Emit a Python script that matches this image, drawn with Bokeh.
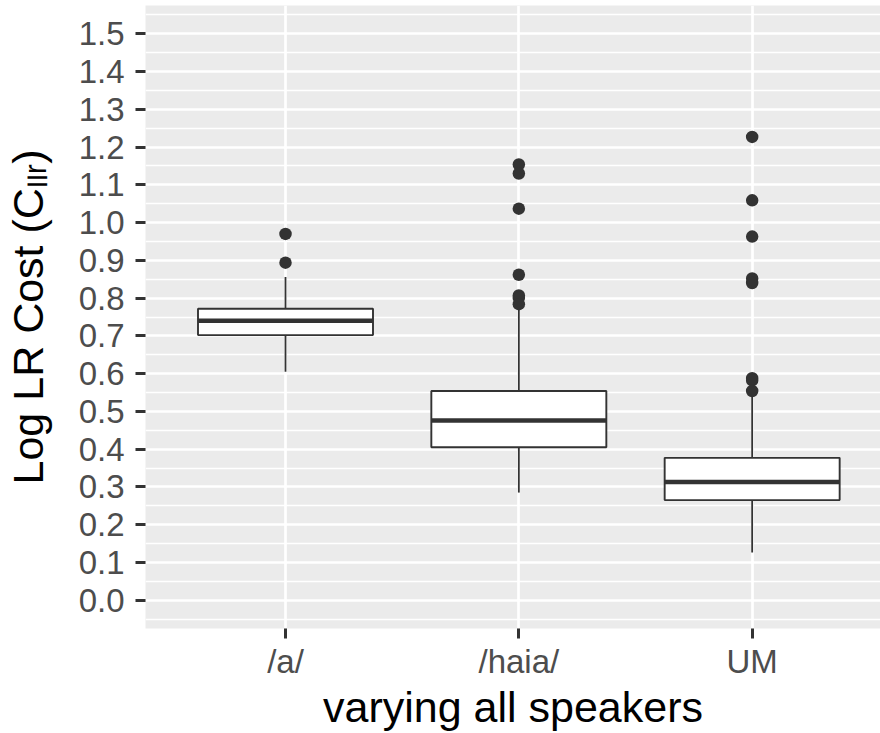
from bokeh.embed import file_html
from bokeh.models import FixedTicker, NumeralTickFormatter, Range1d
from bokeh.plotting import figure
from bokeh.resources import INLINE

# Log LR cost (Cllr) summaries per condition
conditions = ["/a/", "/haia/", "UM"]
q1 = [0.702, 0.405, 0.265]
median = [0.740, 0.476, 0.313]
q3 = [0.772, 0.554, 0.377]
whisker_low = [0.605, 0.285, 0.126]
whisker_high = [0.856, 0.778, 0.545]
outliers = {
    "/a/": [0.970, 0.894],
    "/haia/": [1.154, 1.130, 1.037, 0.862, 0.807, 0.800, 0.784],
    "UM": [1.227, 1.059, 0.963, 0.852, 0.840, 0.588, 0.582, 0.554],
}
y_ticks = [round(0.1 * i, 1) for i in range(16)]

FONT = "Liberation Sans"
INK = "#333333"
BOX_WIDTH = 0.75
TITLE_SIZE = "43px"

xs = [i + 1 for i in range(len(conditions))]

p = figure(
    width=880, height=733,
    x_range=Range1d(0.4, 3.55), y_range=Range1d(-0.075, 1.575),
    output_backend="svg", toolbar_location=None,
    min_border_left=143, min_border_right=0,
    min_border_top=5, min_border_bottom=105,
)
p.background_fill_color = "#EBEBEB"
p.border_fill_color = "white"
p.outline_line_color = None

# axes and panel grid
p.xaxis.ticker = FixedTicker(ticks=xs)
p.xaxis.major_label_overrides = {x: c for x, c in zip(xs, conditions)}
p.yaxis.ticker = FixedTicker(ticks=y_ticks,
                             minor_ticks=[round(t + 0.05, 2) for t in [-0.1] + y_ticks])
p.yaxis.formatter = NumeralTickFormatter(format="0.0")

p.xgrid.grid_line_color = "white"
p.xgrid.grid_line_width = 2.7
p.ygrid.grid_line_color = "white"
p.ygrid.grid_line_width = 2.7
p.ygrid.minor_grid_line_color = "white"
p.ygrid.minor_grid_line_width = 1.4

for ax in (p.xaxis, p.yaxis):
    ax.axis_line_color = None
    ax.major_tick_line_color = INK
    ax.major_tick_line_width = 3
    ax.major_tick_in = 0
    ax.major_tick_out = 10
    ax.minor_tick_line_color = None
    ax.major_label_text_font = FONT
    ax.major_label_text_font_size = "33px"
    ax.major_label_text_color = "#4D4D4D"
    ax.axis_label_text_font = FONT
    ax.axis_label_text_font_size = TITLE_SIZE
    ax.axis_label_text_font_style = "normal"
    ax.axis_label_text_color = "black"
p.yaxis.major_label_standoff = 11
p.xaxis.major_label_standoff = 4

p.xaxis.axis_label = "varying all speakers"
p.xaxis.axis_label_standoff = 0
p.yaxis.axis_label = "Log LR Cost (C\u2097\u2097\u1d63)"
p.yaxis.axis_label_standoff = 24

# whiskers
p.segment(x0=xs, y0=q3, x1=xs, y1=whisker_high, line_color=INK, line_width=1.8)
p.segment(x0=xs, y0=q1, x1=xs, y1=whisker_low, line_color=INK, line_width=1.8)

# boxes and medians
p.vbar(x=xs, width=BOX_WIDTH, top=q3, bottom=q1,
       fill_color="white", line_color=INK, line_width=1.9)
p.segment(x0=[x - BOX_WIDTH / 2 for x in xs], y0=median,
          x1=[x + BOX_WIDTH / 2 for x in xs], y1=median,
          line_color=INK, line_width=4.6, line_cap="butt")

# outlying points
ox, oy = [], []
for x, c in zip(xs, conditions):
    ox += [x] * len(outliers[c])
    oy += outliers[c]
p.scatter(x=ox, y=oy, size=12.5, marker="circle", fill_color=INK, line_color=None)

open("out.html", "w").write(file_html(p, INLINE))
